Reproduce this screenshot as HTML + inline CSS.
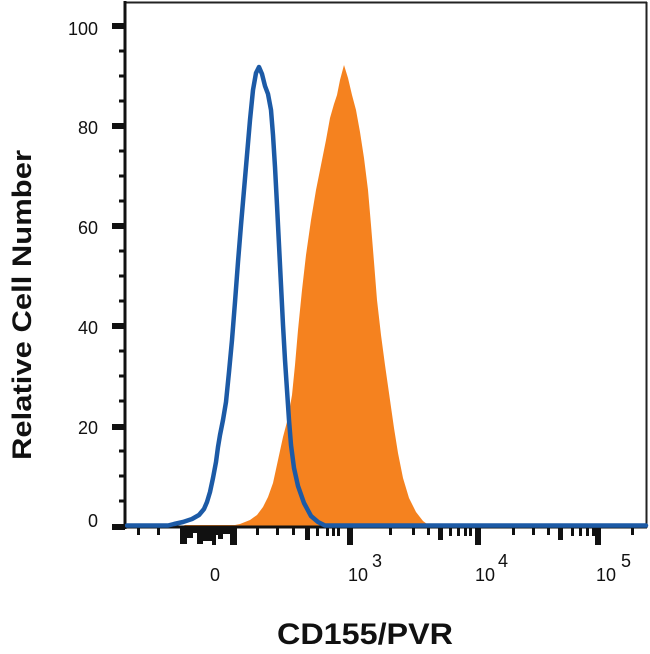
<!DOCTYPE html>
<html>
<head>
<meta charset="utf-8">
<style>
html,body{margin:0;padding:0;background:#fff;}
svg{display:block;}
text{font-family:"Liberation Sans",sans-serif;}
</style>
</head>
<body>
<svg width="650" height="654" viewBox="0 0 650 654" xmlns="http://www.w3.org/2000/svg">
<rect width="650" height="654" fill="#fff"/>

<polygon fill="#f5821f" points="180,527 185,525 235,525 240,524 250,520 257,515 263,507 268,497 273,483 278,460 283,437 288,418 292,395 295,365 298,330 302,290 306,255 311,220 316,190 321,165 326,140 330,118 334,104 337,95 340,80 344,65 348,78 352,95 356,110 360,132 364,158 368,190 371,225 374,262 377,300 381,335 385,365 390,400 394,428 398,453 403,478 409,498 416,512 423,521 431,527"/>

<line x1="125" y1="2.5" x2="647" y2="2.5" stroke="#222" stroke-width="2"/>
<line x1="646.5" y1="2" x2="646.5" y2="528" stroke="#222" stroke-width="2"/>
<line x1="125" y1="1" x2="125" y2="529" stroke="#111" stroke-width="3"/>
<line x1="124" y1="527" x2="647" y2="527" stroke="#111" stroke-width="3"/>

<polyline fill="none" stroke="#1c5aa6" stroke-width="4.5" stroke-linejoin="round" stroke-linecap="round" points="127,525.5 168,525.5 174,524 183,522 192,519 199,515 204,509 207,502 210,492 213,478 216,462 218,447 220,435 223,420 226,402 229,372 232,340 235,302 238,262 241,225 244,190 247,155 250,120 253,90 256,73 259,67 262,74 265,86 268,94 271,110 273,135 275,167 277,205 279,245 281,285 283,325 285,360 287,390 289,420 291,445 294,468 298,486 304,503 311,516 318,522 325,525.5 646,525.5"/>

<g fill="#111">
<rect x="112" y="23" width="13" height="6"/>
<rect x="119" y="49.5" width="6" height="3"/>
<rect x="119" y="74.5" width="6" height="3"/>
<rect x="119" y="99.5" width="6" height="3"/>
<rect x="112" y="123" width="13" height="6"/>
<rect x="119" y="149.5" width="6" height="3"/>
<rect x="119" y="174.5" width="6" height="3"/>
<rect x="119" y="199.5" width="6" height="3"/>
<rect x="112" y="223" width="13" height="6"/>
<rect x="119" y="249.5" width="6" height="3"/>
<rect x="119" y="274.5" width="6" height="3"/>
<rect x="119" y="299.5" width="6" height="3"/>
<rect x="112" y="323" width="13" height="6"/>
<rect x="119" y="349.5" width="6" height="3"/>
<rect x="119" y="374.5" width="6" height="3"/>
<rect x="119" y="399.5" width="6" height="3"/>
<rect x="112" y="424" width="13" height="6"/>
<rect x="119" y="449.5" width="6" height="3"/>
<rect x="119" y="474.5" width="6" height="3"/>
<rect x="119" y="499.5" width="6" height="3"/>
<rect x="112" y="524" width="13" height="6"/>
</g>

<g fill="#111">
<rect x="137" y="528" width="3" height="7"/>
<rect x="157" y="528" width="3" height="7"/>
<rect x="180" y="528" width="7" height="16"/>
<rect x="187" y="528" width="6" height="10"/>
<rect x="193" y="528" width="4" height="5"/>
<rect x="197" y="528" width="6" height="16"/>
<rect x="203" y="528" width="9" height="13"/>
<rect x="212" y="528" width="4" height="17"/>
<rect x="216" y="528" width="2" height="7"/>
<rect x="218" y="528" width="5" height="11"/>
<rect x="223" y="528" width="7" height="6"/>
<rect x="230" y="528" width="7" height="17"/>
<rect x="256" y="528" width="3" height="7"/>
<rect x="276" y="528" width="3" height="7"/>
<rect x="292" y="528" width="3" height="7"/>
<rect x="305" y="528" width="5" height="12"/>
<rect x="316" y="528" width="3" height="8"/>
<rect x="326" y="528" width="3" height="8"/>
<rect x="332" y="528" width="3" height="8"/>
<rect x="337" y="528" width="3" height="8"/>
<rect x="347" y="528" width="6" height="17"/>
<rect x="389" y="528" width="3" height="7"/>
<rect x="412" y="528" width="3" height="7"/>
<rect x="427" y="528" width="3" height="7"/>
<rect x="438" y="528" width="5" height="12"/>
<rect x="449" y="528" width="3" height="8"/>
<rect x="457" y="528" width="3" height="8"/>
<rect x="464" y="528" width="3" height="8"/>
<rect x="469" y="528" width="3" height="8"/>
<rect x="475" y="528" width="6" height="17"/>
<rect x="512" y="528" width="3" height="7"/>
<rect x="532" y="528" width="3" height="7"/>
<rect x="547" y="528" width="3" height="7"/>
<rect x="558" y="528" width="5" height="12"/>
<rect x="571" y="528" width="3" height="8"/>
<rect x="579" y="528" width="3" height="8"/>
<rect x="586" y="528" width="3" height="8"/>
<rect x="592" y="528" width="3" height="8"/>
<rect x="595" y="528" width="6" height="17"/>
<rect x="631" y="528" width="3" height="7"/>
</g>

<g font-size="18" fill="#111" text-anchor="end">
<text x="98" y="35">100</text>
<text x="98" y="134">80</text>
<text x="98" y="234">60</text>
<text x="98" y="334">40</text>
<text x="98" y="434">20</text>
<text x="98" y="527">0</text>
</g>

<g font-size="18" fill="#111">
<text x="215" y="581" text-anchor="middle">0</text>
<text x="348" y="581">10</text>
<text x="372" y="567">3</text>
<text x="475" y="581">10</text>
<text x="498" y="567">4</text>
<text x="596" y="581">10</text>
<text x="621" y="567">5</text>
</g>

<text x="277" y="644" font-size="30" font-weight="bold" fill="#111" textLength="176" lengthAdjust="spacingAndGlyphs">CD155/PVR</text>
<text transform="translate(31,305) rotate(-90)" text-anchor="middle" font-size="27" font-weight="bold" fill="#111" textLength="310" lengthAdjust="spacingAndGlyphs">Relative Cell Number</text>
</svg>
</body>
</html>
